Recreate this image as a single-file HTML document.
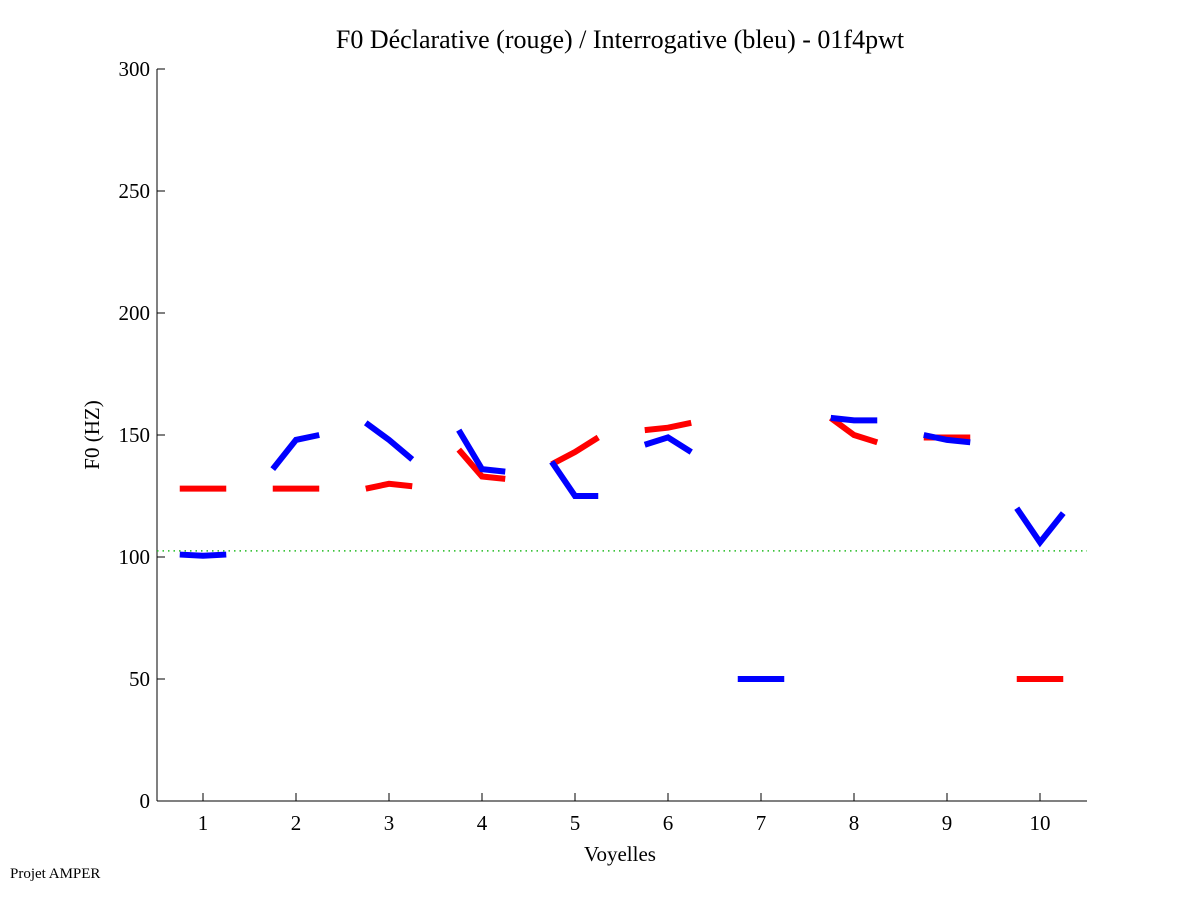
<!DOCTYPE html>
<html><head><meta charset="utf-8"><style>
body{margin:0;background:#fff;}
svg text{font-family:"Liberation Serif",serif;}
</style></head><body>
<svg id="chart" width="1201" height="901" xmlns="http://www.w3.org/2000/svg">
<rect width="1201" height="901" fill="#fff"/>
<text x="620" y="48" font-size="26" text-anchor="middle">F0 Déclarative (rouge) / Interrogative (bleu) - 01f4pwt</text>
<text transform="translate(99,435) rotate(-90)" font-size="21" text-anchor="middle">F0 (HZ)</text>
<text x="620" y="861" font-size="21" text-anchor="middle">Voyelles</text>
<text x="10" y="878" font-size="15">Projet AMPER</text>
<g id="axes"></g>
<g id="marks"></g>
</svg>
<script>
const categories=[1,2,3,4,5,6,7,8,9,10];
const yTicks=[0,50,100,150,200,250,300];
const redSeries=[[128,128,128],[128,128,128],[128,130,129],[144,133,132],[138,143,149],[152,153,155],null,[157,150,147],[149,149,149],[50,50,50]];
const blueSeries=[[101,100.5,101],[136,148,150],[155,148,140],[152,136,135],[139,125,125],[146,149,143],[50,50,50],[157,156,156],[150,148,147],[120,106,118]];
const refLine=102.5;
const X=v=>203+(v-1)*93;
const Y=v=>801-v*2.44;
const NS="http://www.w3.org/2000/svg";
const axes=document.getElementById('axes'),marks=document.getElementById('marks');
function mk(tag,attrs,parent){const e=document.createElementNS(NS,tag);for(const k in attrs)e.setAttribute(k,attrs[k]);parent.appendChild(e);return e;}
let l=mk('line',{x1:157,y1:Y(0),x2:1087,y2:Y(0),stroke:'#000'},axes);


l=mk('line',{x1:157,y1:Y(0),x2:157,y2:Y(300),stroke:'#000'},axes);


categories.forEach(c=>{
  mk('line',{x1:X(c),y1:801,x2:X(c),y2:793,stroke:'#000'},axes);
  const t=mk('text',{x:X(c),y:830,'font-size':21,'text-anchor':'middle'},axes);
  t.textContent=c;
  
  
});
yTicks.forEach(v=>{
  mk('line',{x1:157,y1:Y(v),x2:165,y2:Y(v),stroke:'#000'},axes);
  const t=mk('text',{x:150,y:Y(v)+7,'font-size':21,'text-anchor':'end'},axes);
  t.textContent=v;
  
  
});
const ref=mk('line',{x1:157,y1:Y(refLine),x2:1087,y2:Y(refLine),stroke:'#22bb22','stroke-width':1.5,'stroke-dasharray':'1.5 4'},marks);


function draw(series,color,name){
  series.forEach((s,i)=>{
    if(!s)return;
    const c=categories[i];
    const pts=s.map((v,j)=>X(c-0.25+j*0.25)+','+Y(v)).join(' ');
    const p=mk('polyline',{points:pts,fill:'none',stroke:color,'stroke-width':6,'stroke-linejoin':'miter'},marks);
    
    
  });
}
draw(redSeries,'#ff0000','declarative');
draw(blueSeries,'#0000ff','interrogative');
</script>
</body></html>
